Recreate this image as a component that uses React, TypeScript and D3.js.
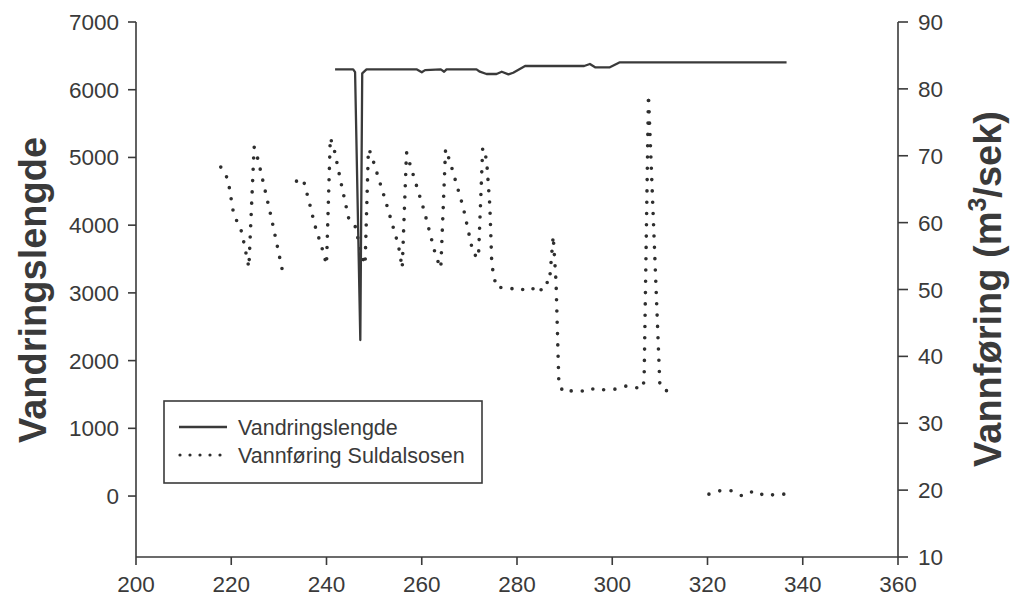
import React from "react";
import * as d3 from "d3";

// ---- Data ----
const xTicks = [200, 220, 240, 260, 280, 300, 320, 340, 360];
const leftTicks = [0, 1000, 2000, 3000, 4000, 5000, 6000, 7000];
const rightTicks = [10, 20, 30, 40, 50, 60, 70, 80, 90];

// Vandringslengde (left axis)
const vandDays = [
  241.8, 245.6, 246.0, 247.1, 247.5, 248.4, 258.9, 260.0, 260.7, 264.0, 264.7, 265.2,
  271.5, 272.2, 273.6, 275.7, 276.8, 278.2, 279.2, 281.7, 294.1, 295.3, 296.4, 299.5,
  301.6, 336.6,
];
const vandValues = [
  6301, 6301, 6261, 2303, 6242, 6301, 6301, 6257, 6290, 6301, 6266, 6301,
  6301, 6266, 6232, 6232, 6266, 6227, 6251, 6350, 6350, 6380, 6331, 6331,
  6405, 6405,
];

// Vannføring Suldalsosen (right axis); null = gap in the series
const flowDays = [
  217.8, 219.3, 220.5, 222.2, 223.7, 224.8, 225.6, 228.4, 230.9,
  232.0,
  233.7, 235.1, 236.4, 237.6, 239.1, 240.0, 240.8, 241.6, 243.1, 244.7, 246.0, 247.5,
  248.1, 248.8, 249.3, 252.3, 255.1, 255.9, 256.8, 257.5, 260.5, 263.0, 264.0, 265.0,
  265.9, 268.7, 270.8, 271.9, 272.8, 273.6, 274.3, 274.7, 275.1, 275.7, 278.2, 280.4,
  282.7, 284.8, 285.7, 286.8, 287.6, 288.2, 288.8, 289.9, 292.4, 294.7, 296.4, 298.3,
  300.6, 303.1, 304.6, 306.5, 306.7, 307.6, 307.7, 310.0, 310.4, 311.9,
  315.0,
  320.3, 322.6, 325.0, 327.4, 329.8, 332.2, 334.5, 336.9,
];
const flowValues: (number | null)[] = [
  68.3, 66.5, 61.3, 58.6, 53.3, 71.3, 69.5, 60.8, 52.3,
  null,
  66.2, 66.5, 63.0, 59.5, 56.1, 53.7, 72.7, 71.0, 65.8, 60.5, 59.5, 54.9,
  53.7, 71.0, 70.4, 63.5, 56.6, 53.2, 70.5, 68.8, 61.8, 54.9, 53.2, 71.0,
  69.2, 62.3, 55.4, 54.7, 71.2, 69.5, 62.5, 53.9, 52.1, 50.3, 50.3, 49.8,
  50.4, 49.5, 51.1, 51.0, 58.0, 51.1, 35.7, 34.6, 35.0, 34.7, 35.3, 35.0,
  35.1, 35.6, 35.3, 35.3, 37.0, 79.1, 77.3, 35.7, 35.2, 34.7,
  null,
  19.4, 19.9, 19.9, 19.1, 19.9, 19.1, 19.4, 19.4,
];

const seriesNames = ["Vandringslengde", "Vannføring Suldalsosen"];
const leftTitle = "Vandringslengde";

const W = 1015;
const H = 597;
const FONT = "'Liberation Sans', Arial, Helvetica, sans-serif";
const INK = "#3a3a3a";

export default function App() {
  const x = d3.scaleLinear().domain([200, 360]).range([136, 898]);
  const yL = d3.scaleLinear().domain([-900, 7000]).range([557, 22]);
  const yR = d3.scaleLinear().domain([10, 90]).range([557, 22]);

  const vandPts: [number, number][] = vandDays.map((d, i) => [d, vandValues[i]]);
  const flowPts: [number, number | null][] = flowDays.map((d, i) => [d, flowValues[i]]);

  const vandPath =
    d3
      .line<[number, number]>()
      .x((d) => x(d[0]))
      .y((d) => yL(d[1]))(vandPts) || "";

  const flowPath =
    d3
      .line<[number, number | null]>()
      .defined((d) => d[1] !== null)
      .x((d) => x(d[0]))
      .y((d) => yR(d[1] as number))(flowPts) || "";

  const [x0, x1] = x.range();
  const [yb, yt] = yL.range();

  return (
    <svg
      width={W}
      height={H}
      style={{ position: "absolute", left: 0, top: 0, background: "#fff" }}
      fontFamily={FONT}
    >
      <rect x={0} y={0} width={W} height={H} fill="#fff" />

      {/* axes lines */}
      <g stroke={INK} strokeWidth={1.6} fill="none">
        <line x1={x0} y1={yt} x2={x0} y2={yb} />
        <line x1={x1} y1={yt} x2={x1} y2={yb} />
        <line x1={x0} y1={yb} x2={x1} y2={yb} />
      </g>

      {/* bottom ticks */}
      <g>
        {xTicks.map((t) => (
          <g key={t}>
            <line x1={x(t)} x2={x(t)} y1={yb} y2={yb + 8} stroke={INK} strokeWidth={1.6} />
            <text x={x(t)} y={592} fontSize={22.5} textAnchor="middle" fill={INK}>
              {t}
            </text>
          </g>
        ))}
      </g>

      {/* left ticks */}
      <g>
        {leftTicks.map((t) => (
          <g key={t}>
            <line x1={x0 - 8} x2={x0} y1={yL(t)} y2={yL(t)} stroke={INK} strokeWidth={1.6} />
            <text x={119} y={yL(t) + 8} fontSize={22.5} textAnchor="end" fill={INK}>
              {t}
            </text>
          </g>
        ))}
      </g>

      {/* right ticks */}
      <g>
        {rightTicks.map((t) => (
          <g key={t}>
            <line x1={x1} x2={x1 + 10} y1={yR(t)} y2={yR(t)} stroke={INK} strokeWidth={1.6} />
            <text x={918} y={yR(t) + 8} fontSize={22.5} textAnchor="start" fill={INK}>
              {t}
            </text>
          </g>
        ))}
      </g>

      {/* axis titles */}
      <text
        transform={`translate(46,290) rotate(-90)`}
        textAnchor="middle"
        fontSize={38}
        fontWeight="bold"
        fill={INK}
      >
        {leftTitle}
      </text>
      <text
        transform={`translate(1001,289) rotate(-90)`}
        textAnchor="middle"
        fontSize={38}
        fontWeight="bold"
        fill={INK}
      >
        Vannføring (m
        <tspan fontSize={25} dy={-15}>
          3
        </tspan>
        <tspan dy={15}>/sek)</tspan>
      </text>

      {/* series */}
      <path d={flowPath} fill="none" stroke="#2e2e2e" strokeWidth={3.6} strokeLinecap="round" strokeDasharray="0 11.3" />
      <path d={vandPath} fill="none" stroke={INK} strokeWidth={2.3} strokeLinejoin="round" />

      {/* legend */}
      <rect x={164} y={401} width={318} height={82} fill="#fff" stroke={INK} strokeWidth={1.6} />
      <line x1={179} x2={227} y1={427} y2={427} stroke={INK} strokeWidth={2.3} />
      <line
        x1={180}
        x2={222}
        y1={455}
        y2={455}
        stroke="#2e2e2e"
        strokeWidth={3.2}
        strokeLinecap="round"
        strokeDasharray="0 10"
      />
      <text x={238} y={435} fontSize={21.5} fill={INK}>
        {seriesNames[0]}
      </text>
      <text x={238} y={463} fontSize={21.5} fill={INK}>
        {seriesNames[1]}
      </text>
    </svg>
  );
}
